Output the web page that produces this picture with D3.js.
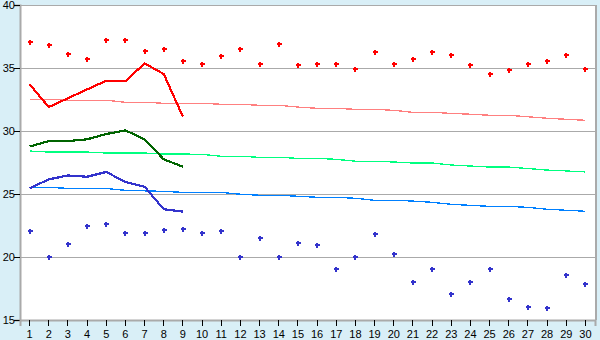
<!DOCTYPE html>
<html>
<head>
<meta charset="utf-8">
<script src="https://cdn.jsdelivr.net/npm/d3@7/dist/d3.min.js"></script>
<style>
    html, body { margin: 0; padding: 0; background: #d9eff7; }
    svg { display: block; }
    .tick text { font-family: "Liberation Sans", Arial, sans-serif; font-size: 11px; fill: #000; }
</style>
</head>
<body>
<svg id="chart" width="600" height="340"></svg>
<script>
// days of month
var days = d3.range(1, 31);
var yTicks = [15, 20, 25, 30, 35, 40];

// daily max / min (points)
var maxPoints = [37.04, 36.8, 36.09, 35.69, 37.2, 37.2, 36.32, 36.48, 35.53, 35.29,
                 35.93, 36.48, 35.29, 36.88, 35.21, 35.29, 35.29, 34.9, 36.25, 35.29,
                 35.69, 36.25, 36.0, 35.21, 34.5, 34.82, 35.29, 35.53, 36.0, 34.9];
var minPoints = [22.04, 20.0, 21.03, 22.44, 22.6, 21.88, 21.88, 22.12, 22.2, 21.88,
                 22.04, 20.0, 21.48, 20.0, 21.09, 20.93, 19.03, 20.0, 21.8, 20.24,
                 18.0, 19.03, 17.04, 18.0, 19.03, 16.63, 16.0, 15.92, 18.55, 17.83];

// current month (first 9 days)
var highLine = [33.71, 31.9, 32.6, 33.3, 33.99, 33.94, 35.37, 34.52, 31.13];
var meanLine = [28.76, 29.2, 29.2, 29.34, 29.76, 30.05, 29.34, 27.75, 27.17];
var lowLine  = [25.45, 26.16, 26.47, 26.37, 26.75, 25.95, 25.58, 23.79, 23.6];

// normals
var highNormal = [32.52, 32.52, 32.44, 32.44, 32.44, 32.28, 32.28, 32.2, 32.2, 32.2,
                  32.12, 32.12, 32.04, 32.04, 31.9, 31.8, 31.8, 31.72, 31.72, 31.64,
                  31.48, 31.48, 31.4, 31.33, 31.25, 31.25, 31.13, 31.01, 30.93, 30.85];
var meanNormal = [28.41, 28.33, 28.33, 28.33, 28.25, 28.25, 28.25, 28.17, 28.17, 28.15,
                  27.99, 27.99, 27.91, 27.91, 27.83, 27.83, 27.75, 27.6, 27.6, 27.54,
                  27.46, 27.46, 27.3, 27.22, 27.14, 27.14, 27.02, 26.9, 26.83, 26.75];
var lowNormal  = [25.53, 25.52, 25.45, 25.45, 25.44, 25.29, 25.25, 25.21, 25.13, 25.13,
                  25.13, 24.98, 24.9, 24.9, 24.82, 24.74, 24.74, 24.66, 24.5, 24.5,
                  24.44, 24.34, 24.18, 24.1, 24.02, 24.02, 23.94, 23.79, 23.71, 23.63];

var svg = d3.select('#chart'),
    plotLeft = 20, plotRight = 595, plotTop = 5, plotBottom = 320;

var x = d3.scaleBand().domain(days).range([plotLeft, plotRight]).padding(0),
    y = d3.scaleLinear().domain([15, 40]).range([plotBottom, plotTop]);

var cx = function(d) { return x(d) + x.bandwidth() / 2; };

// plot area
svg.append('rect')
    .attr('x', plotLeft).attr('y', plotTop)
    .attr('width', plotRight - plotLeft).attr('height', plotBottom - plotTop)
    .attr('fill', '#fff');

// grid lines
svg.append('g')
    .selectAll('line')
    .data(yTicks)
    .join('line')
    .attr('x1', plotLeft).attr('x2', plotRight)
    .attr('y1', function(d) { return Math.round(y(d)) + 0.5; })
    .attr('y2', function(d) { return Math.round(y(d)) + 0.5; })
    .attr('stroke', '#aaa')
    .attr('shape-rendering', 'crispEdges');

// right border
svg.append('line')
    .attr('x1', plotRight + 0.5).attr('x2', plotRight + 0.5)
    .attr('y1', plotTop).attr('y2', plotBottom)
    .attr('stroke', '#aaa').attr('stroke-width', 2)
    .attr('shape-rendering', 'crispEdges');

// axes
var yAxis = svg.append('g')
    .attr('transform', 'translate(' + plotLeft + ',0)')
    .call(d3.axisLeft(y).tickValues(yTicks).tickSize(6).tickPadding(-1));
var xAxis = svg.append('g')
    .attr('transform', 'translate(0,' + plotBottom + ')')
    .call(d3.axisBottom(x).tickSize(6).tickPadding(4));

[yAxis, xAxis].forEach(function(g) {
    g.select('.domain').attr('stroke', '#aaa').attr('stroke-width', 2);
    g.selectAll('.tick line').attr('stroke', '#000').attr('shape-rendering', 'crispEdges');
});
yAxis.selectAll('.tick text').attr('dy', '0.36em');

// normal lines
var normals = [
    {values: highNormal, color: '#ff8080'},
    {values: meanNormal, color: '#00ff80'},
    {values: lowNormal, color: '#0080ff'}
];
var line = d3.line()
    .x(function(d, i) { return cx(days[i]); })
    .y(function(d) { return y(d); });

svg.append('g')
    .selectAll('path')
    .data(normals)
    .join('path')
    .attr('d', function(d) { return line(d.values); })
    .attr('fill', 'none')
    .attr('stroke', function(d) { return d.color; })
    .attr('stroke-width', 1.3)
    .attr('shape-rendering', 'crispEdges');

// current lines
var series = [
    {values: highLine, color: '#ff0000'},
    {values: meanLine, color: '#006400'},
    {values: lowLine, color: '#3333cc'}
];
svg.append('g')
    .selectAll('path')
    .data(series)
    .join('path')
    .attr('d', function(d) { return line(d.values); })
    .attr('fill', 'none')
    .attr('stroke', function(d) { return d.color; })
    .attr('stroke-width', 2.2)
    .attr('stroke-linejoin', 'round')
    .attr('shape-rendering', 'crispEdges');

// point markers (small plus shape)
var marker = 'M-1,-2.5h2v1.5h1.5v2h-1.5v1.5h-2v-1.5h-1.5v-2h1.5z';
var drawPoints = function(values, color) {
    svg.append('g')
        .selectAll('path')
        .data(values)
        .join('path')
        .attr('d', marker)
        .attr('transform', function(d, i) {
            return 'translate(' + Math.round(cx(days[i])) + ',' + Math.round(y(d)) + ')';
        })
        .attr('fill', color)
        .attr('shape-rendering', 'crispEdges');
};
drawPoints(maxPoints, '#ff0000');
drawPoints(minPoints, '#3333cc');
</script>
</body>
</html>
